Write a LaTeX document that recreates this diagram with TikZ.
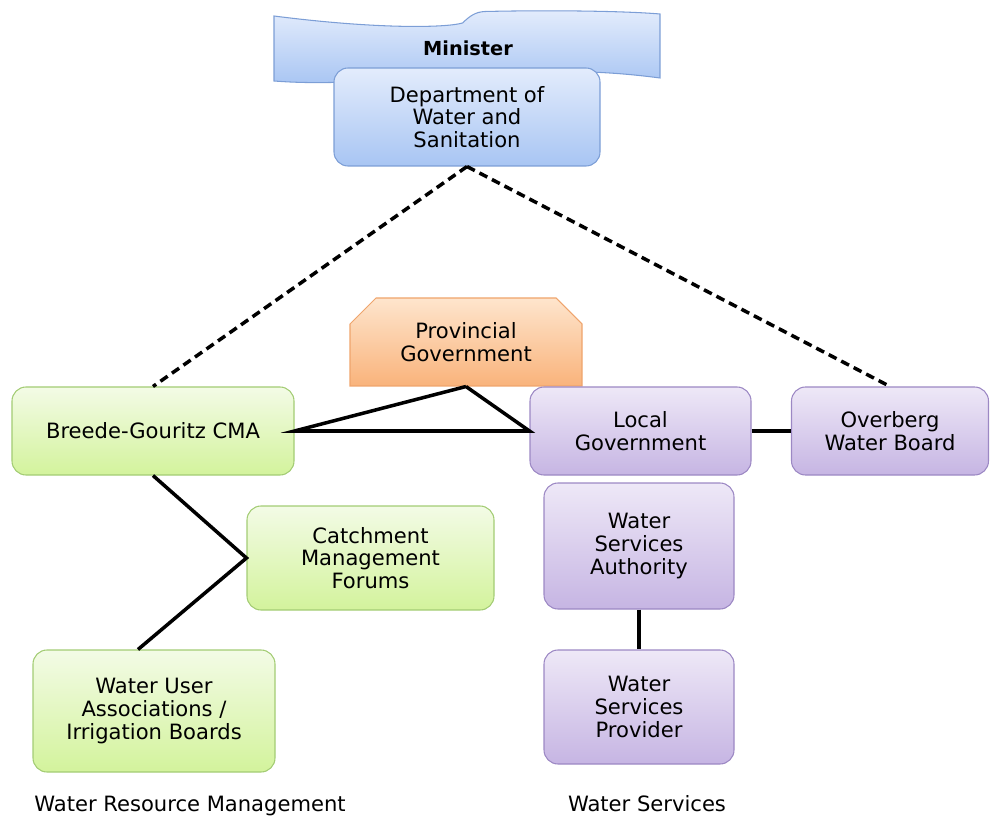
\documentclass[tikz,border=0pt]{standalone}
\usepackage{fontspec}
\setmainfont{DejaVu Sans}
\usepackage{tikz}
\usetikzlibrary{positioning,shapes.misc}

\definecolor{bluetop}{HTML}{E3ECFC}
\definecolor{bluebot}{HTML}{A8C5F3}
\definecolor{blueline}{HTML}{7C9ED6}
\definecolor{greentop}{HTML}{F3FBE6}
\definecolor{greenbot}{HTML}{D3F39C}
\definecolor{greenline}{HTML}{A3CC74}
\definecolor{purpletop}{HTML}{EEE8F7}
\definecolor{purplebot}{HTML}{C6B5E3}
\definecolor{purpleline}{HTML}{9C88C4}
\definecolor{orangetop}{HTML}{FEE5CD}
\definecolor{orangebot}{HTML}{F9B37B}
\definecolor{orangeline}{HTML}{EFA46C}

\begin{document}
\begin{tikzpicture}[font=\fontsize{12}{13}\selectfont]
  \tikzstyle{box}=[rectangle,rounded corners=0.28cm,draw,line width=0.6pt,align=center,inner sep=2pt]
  \tikzstyle{bluebox}=[box,draw=blueline,top color=bluetop,bottom color=bluebot]
  \tikzstyle{greenbox}=[box,draw=greenline,top color=greentop,bottom color=greenbot]
  \tikzstyle{purplebox}=[box,draw=purpleline,top color=purpletop,bottom color=purplebot]
  \tikzstyle{provbox}=[chamfered rectangle,chamfered rectangle corners={north west,north east},
    chamfered rectangle xsep=0.26cm,chamfered rectangle ysep=0.26cm,draw=orangeline,line width=0.6pt,
    top color=orangetop,bottom color=orangebot,align=center,inner sep=2pt]
  \tikzstyle{link}=[line width=2pt,black]
  \tikzstyle{dashlink}=[link,dash pattern=on 5pt off 3pt]

  \useasboundingbox (0,0) rectangle (19.8,16.3);

  % banner behind the department
  \path[draw=blueline,line width=0.6pt,top color=bluetop,bottom color=bluebot]
    (5.48,15.98) .. controls (7.5,15.72) and (8.9,15.74) .. (9.25,15.84)
    .. controls (9.4,15.98) and (9.5,16.06) .. (9.7,16.07)
    .. controls (11,16.1) and (12.5,16.08) .. (13.2,16.02) -- (13.2,14.74)
    .. controls (12,14.9) and (11,14.9) .. (9.4,14.8)
    .. controls (7.5,14.68) and (6.5,14.6) .. (5.48,14.68) -- cycle;
  \node[font=\fontsize{11}{13}\selectfont\bfseries] (minister) at (9.36,15.34) {Minister};

  \node[bluebox,minimum width=5.32cm,minimum height=1.96cm] (dept) at (9.34,13.96) {Department of\\Water and\\Sanitation};

  % water resource management
  \node[provbox,minimum width=4.64cm,minimum height=1.76cm] (prov) at (9.32,9.46) {Provincial\\Government};
  \node[greenbox,minimum width=5.64cm,minimum height=1.76cm] (cma) at (3.06,7.68) {Breede-Gouritz CMA};
  \node[greenbox,minimum width=4.94cm,minimum height=2.08cm] (cmf) at (7.41,5.14) {Catchment\\Management\\Forums};
  \node[greenbox,minimum width=4.84cm,minimum height=2.44cm] (wua) at (3.08,2.08) {Water User\\Associations /\\Irrigation Boards};

  % water services
  \node[purplebox,minimum width=4.42cm,minimum height=1.76cm] (local) at (12.81,7.68) {Local\\Government};
  \node[purplebox,minimum width=3.94cm,minimum height=1.76cm] (overberg) at (17.8,7.68) {Overberg\\Water Board};
  \node[purplebox,minimum width=3.8cm,minimum height=2.52cm] (wsa) at (12.78,5.38) {Water\\Services\\Authority};
  \node[purplebox,minimum width=3.8cm,minimum height=2.28cm] (wsp) at (12.78,2.16) {Water\\Services\\Provider};

  \node[anchor=base] (wrm) at (3.8,0.08) {Water Resource Management};
  \node[anchor=base] (ws) at (12.94,0.08) {Water Services};

  \draw[dashlink] (dept.south) -- (cma.north);
  \draw[dashlink] (dept.south) -- (overberg.north);
  \draw[link] (prov.south) -- (cma.east) -- (local.west) -- (prov.south);
  \draw[link] (local) -- (overberg);
  \draw[link] (cma.south) -- (cmf.west) -- ([xshift=-0.32cm]wua.north);
  \draw[link] (wsa) -- (wsp);
\end{tikzpicture}
\end{document}
